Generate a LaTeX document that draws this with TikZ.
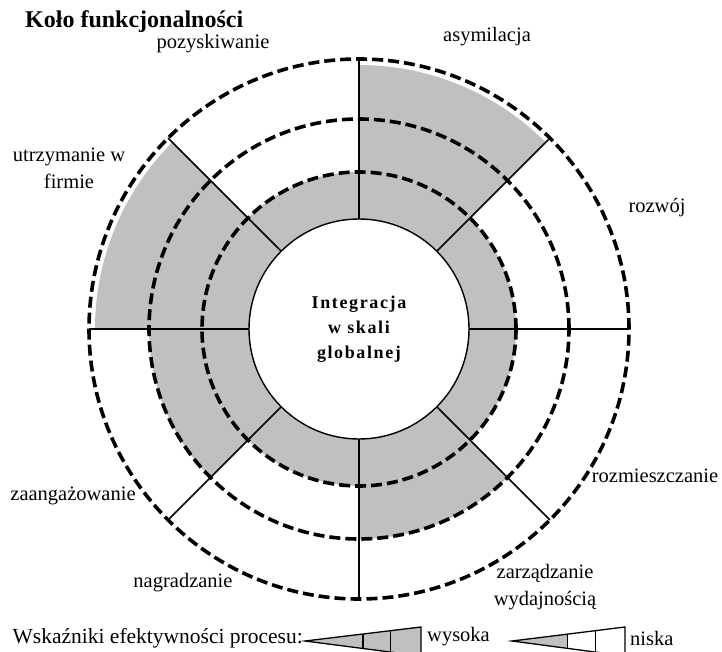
\documentclass[tikz,border=0pt]{standalone}
\usepackage{fontspec}
\setmainfont{Liberation Serif}
\usepackage{tikz}
\usetikzlibrary{calc}
\definecolor{wheelGray}{HTML}{C0C0C0}

\begin{document}
\begin{tikzpicture}[
  x=1pt, y=1pt,
  ring/.style={draw=black, line width=3.6pt, dash pattern=on 11pt off 5pt},
  spoke/.style={draw=black, line width=1.5pt},
  hub/.style={circle, draw=black, line width=1.4pt, fill=white, minimum size=220pt,
              inner sep=0pt, align=center,
              font=\fontsize{18}{25}\selectfont\bfseries\addfontfeatures{LetterSpace=9}},
  lbl/.style={font=\fontsize{20.5}{27}\selectfont, inner sep=0pt, align=center},
  ttl/.style={font=\fontsize{24}{28}\selectfont\bfseries, inner sep=0pt},
  wedge/.style={draw=black, line width=1.3pt, line join=miter}
]
\useasboundingbox (0,0) rectangle (722,-652);
\coordinate (c) at (359,-329);

% ---- shaded sectors
\begin{scope}[shift={(c)}]
\foreach \a/\r in {0/157,45/264,90/157,135/264,180/210,225/157,270/210,315/157}{
  \fill[wheelGray] (\a:110) arc[start angle=\a, delta angle=45, radius=110]
    -- ({\a+45}:\r) arc[start angle=\a+45, delta angle=-45, radius=\r] -- cycle;
}
\end{scope}

% ---- spokes and rings
\foreach \a in {0,45,...,315}{\draw[spoke] ($(c)+(\a:110)$) -- ($(c)+(\a:270)$);}
\foreach \r in {157,210,270}{\draw[ring] (c) circle[radius=\r];}
\node[hub] (hub) at (c) {Integracja\\w skali\\globalnej};

% ---- labels
\node[ttl, anchor=west] (title) at (25,-22) {Koło funkcjonalności};
\node[lbl] (pozysk) at (213,-44) {pozyskiwanie};
\node[lbl] (asym)   at (487,-37) {asymilacja};
\node[lbl] (rozwoj) at (657,-208) {rozwój};
\node[lbl] (rozmie) at (655,-476) {rozmieszczanie};
\node[lbl] (zarzad) at (545,-587) {zarządzanie\\wydajnością};
\node[lbl] (nagrad) at (183,-583) {nagradzanie};
\node[lbl] (zaang)  at (73,-496) {zaangażowanie};
\node[lbl] (utrzym) at (69,-168) {utrzymanie w\\firmie};

% ---- legend
\node[lbl, anchor=east, font=\fontsize{21.5}{27}\selectfont] (legtxt) at (303,-638)
  {Wskaźniki efektywności procesu:};
\coordinate (w1tip) at (305,-641);
\coordinate (w1top) at (421,-627);
\coordinate (w1bot) at (421,-656);
\fill[wheelGray] (w1tip) -- (w1top) -- (w1bot) -- cycle;
\draw[wedge] (w1tip) -- (w1top) -- (w1bot) -- cycle;
\foreach \t in {0.5,0.74}{\draw[wedge] ($(w1tip)!\t!(w1top)$) -- ($(w1tip)!\t!(w1bot)$);}
\node[lbl, anchor=west] (high) at (427,-637) {wysoka};

\coordinate (w2tip) at (512,-641);
\coordinate (w2top) at (625,-627);
\coordinate (w2bot) at (625,-656);
\fill[wheelGray] (w2tip) -- ($(w2tip)!0.49!(w2top)$) -- ($(w2tip)!0.49!(w2bot)$) -- cycle;
\draw[wedge] (w2tip) -- (w2top) -- (w2bot) -- cycle;
\foreach \t in {0.49,0.74}{\draw[wedge] ($(w2tip)!\t!(w2top)$) -- ($(w2tip)!\t!(w2bot)$);}
\node[lbl, anchor=west] (low) at (630,-638) {niska};
\end{tikzpicture}
\end{document}
